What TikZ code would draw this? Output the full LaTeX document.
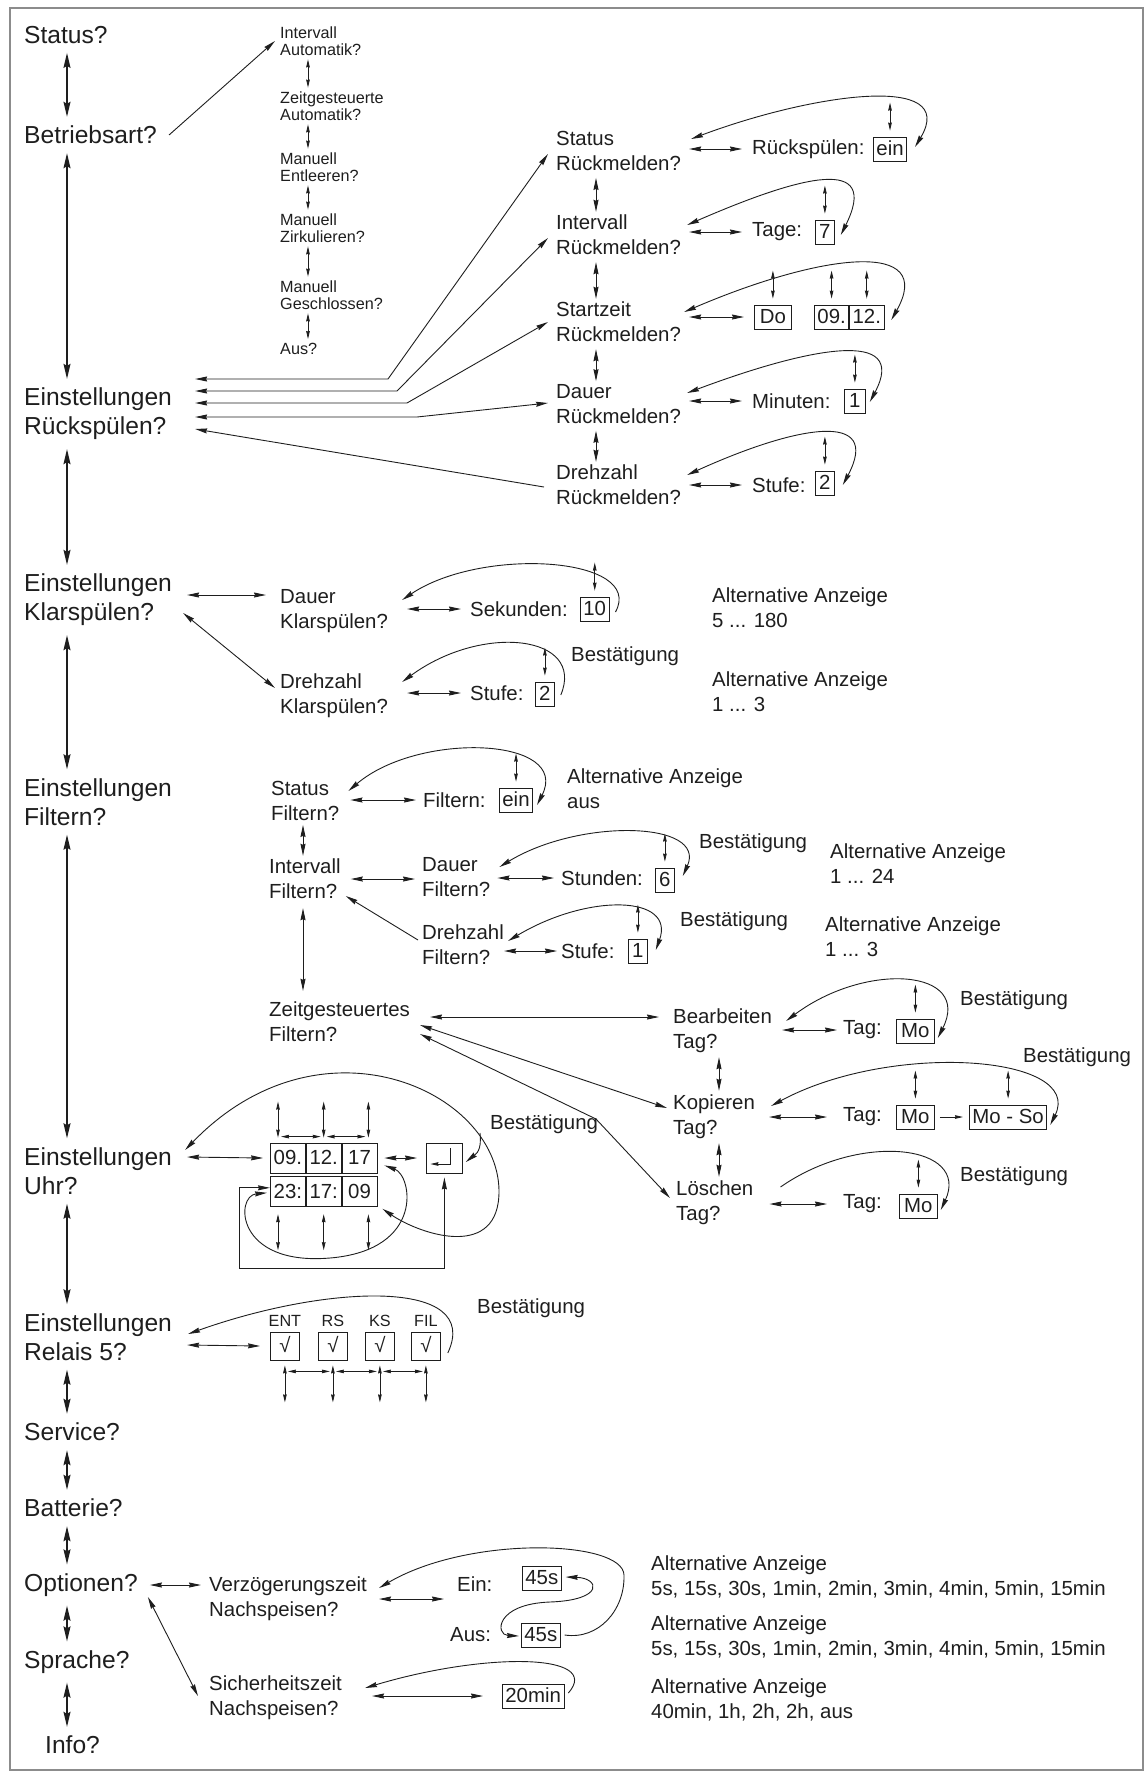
\documentclass[tikz,border=0pt]{standalone}
\usepackage{fontspec}
\setmainfont{Liberation Sans}
\usetikzlibrary{arrows.meta,positioning}
\definecolor{ink}{HTML}{1E1E1E}
\definecolor{rimgray}{HTML}{8C8C8C}

\begin{document}
\begin{tikzpicture}[x=1pt,y=-1pt,
        mtxt/.style = {font=\fontsize{24.6}{29}\selectfont, align=left, anchor=west, inner sep=0pt, text=ink},
        stxt/.style = {font=\fontsize{20.4}{25}\selectfont, align=left, anchor=west, inner sep=0pt, text=ink},
        ttxt/.style = {font=\fontsize{16.2}{16.5}\selectfont, align=left, anchor=west, inner sep=0pt, text=ink},
        vbox/.style = {stxt, draw=ink, line width=0.8pt, inner xsep=3pt, inner ysep=3.5pt, text height=15pt, text depth=2pt, minimum width=19pt},
        cbox/.style = {vbox, minimum width=35pt, minimum height=30pt},
        rbox/.style = {vbox, minimum width=29pt, minimum height=28pt},
        arr/.style = {draw=ink, line width=0.9pt, >={Stealth[length=12pt,width=5pt,inset=1pt]}},
        minarr/.style = {draw=ink, line width=0.8pt, <->, >={Stealth[length=8pt,width=3.6pt,inset=0.5pt]}},
        bigarr/.style = {draw=ink, line width=1.2pt, <->, >={Stealth[length=15pt,width=7pt,inset=2pt]}, shorten <=9pt, shorten >=9pt}]
                \useasboundingbox (0,0) rectangle (1144,1773);
                \draw[rimgray, line width=2.5pt] (10,8) rectangle (1143,1770);

                \node[mtxt] (status) at (24,35) {Status?};
                \node[mtxt] (betrieb) at (24,135) {Betriebsart?};
                \node[mtxt] (eRs) at (24,414) {Einstellungen\\Rückspülen?};
                \node[mtxt] (eKs) at (24,600) {Einstellungen\\Klarspülen?};
                \node[mtxt] (eFi) at (24,802) {Einstellungen\\Filtern?};
                \node[mtxt] (eUh) at (24,1171) {Einstellungen\\Uhr?};
                \node[mtxt] (eRe) at (24,1337) {Einstellungen\\Relais 5?};
                \node[mtxt] (service) at (24,1432) {Service?};
                \node[mtxt] (batterie) at (24,1508) {Batterie?};
                \node[mtxt] (optionen) at (24,1585) {Optionen?};
                \node[mtxt] (sprache) at (24,1662) {Sprache?};
                \node[mtxt] (info) at (45,1745) {Info?};

                \coordinate (col) at (67,0);
                \draw[bigarr] (col |- status.south) -- (col |- betrieb.north);
                \draw[bigarr] (col |- betrieb.south) -- (col |- eRs.north);
                \draw[bigarr] (col |- eRs.south) -- (col |- eKs.north);
                \draw[bigarr] (col |- eKs.south) -- (col |- eFi.north);
                \draw[bigarr] (col |- eFi.south) -- (col |- eUh.north);
                \draw[bigarr] (col |- eUh.south) -- (col |- eRe.north);
                \draw[bigarr] (col |- eRe.south) -- (col |- service.north);
                \draw[bigarr] (col |- service.south) -- (col |- batterie.north);
                \draw[bigarr] (col |- batterie.south) -- (col |- optionen.north);
                \draw[bigarr] (col |- optionen.south) -- (col |- sprache.north);
                \draw[bigarr] (col |- sprache.south) -- (col |- info.north);

                \node[ttxt] (intAuto) at (280,41) {Intervall\\Automatik?};
                \node[ttxt] (zeitAuto) at (280,106) {Zeitgesteuerte\\Automatik?};
                \node[ttxt] (manEnt) at (280,167) {Manuell\\Entleeren?};
                \node[ttxt] (manZirk) at (280,228) {Manuell\\Zirkulieren?};
                \node[ttxt] (manGes) at (280,295) {Manuell\\Geschlossen?};
                \node[ttxt] (ausQ) at (280,349) {Aus?};
                \coordinate (scol) at (308,0);
                \draw[minarr, shorten <=4pt, shorten >=4pt] (scol |- intAuto.south) -- (scol |- zeitAuto.north);
                \draw[minarr, shorten <=4pt, shorten >=4pt] (scol |- zeitAuto.south) -- (scol |- manEnt.north);
                \draw[minarr, shorten <=4pt, shorten >=4pt] (scol |- manEnt.south) -- (scol |- manZirk.north);
                \draw[minarr, shorten <=4pt, shorten >=4pt] (scol |- manZirk.south) -- (scol |- manGes.north);
                \draw[minarr, shorten <=4pt, shorten >=4pt] (scol |- manGes.south) -- (scol |- ausQ.north);
                \draw[arr,->] ([xshift=12pt]betrieb.east) -- ([xshift=-5pt]intAuto.west);

                \node[stxt] (stRm) at (556,151) {Status\\Rückmelden?};
                \node[stxt] (inRm) at (556,235) {Intervall\\Rückmelden?};
                \node[stxt] (suRm) at (556,322) {Startzeit\\Rückmelden?};
                \node[stxt] (daRm) at (556,404) {Dauer\\Rückmelden?};
                \node[stxt] (drRm) at (556,485) {Drehzahl\\Rückmelden?};
                \coordinate (rcol) at (596,0);
                \draw[arr,<->, shorten <=7pt, shorten >=3pt] (rcol |- stRm.south) -- (rcol |- inRm.north);
                \draw[arr,<->, shorten <=7pt, shorten >=3pt] (rcol |- inRm.south) -- (rcol |- suRm.north);
                \draw[arr,<->, shorten <=7pt, shorten >=3pt] (rcol |- suRm.south) -- (rcol |- daRm.north);
                \draw[arr,<->, shorten <=7pt, shorten >=3pt] (rcol |- daRm.south) -- (rcol |- drRm.north);

                \draw[arr,<->] ([shift={(-8,3)}]stRm.west) -- (388,379) -- ([shift={(23,-35)}]eRs.east);
                \draw[arr,<->] ([shift={(-8,3)}]inRm.west) -- (397,391) -- ([shift={(23,-23)}]eRs.east);
                \draw[arr,<->] ([shift={(-8,0)}]suRm.west) -- (407,403) -- ([shift={(23,-11)}]eRs.east);
                \draw[arr,<->] ([shift={(-8,-1)}]daRm.west) -- (417,417) -- ([shift={(23,3)}]eRs.east);
                \draw[arr,<-] ([shift={(23,15)}]eRs.east) -- ([shift={(-12,2)}]drRm.west);

                \node[stxt] (rsLab) at (752,149) {Rückspülen:};
                \node[vbox] (bEin) at (873,149) {ein};
                \node[stxt] (tgLab) at (752,232) {Tage:};
                \node[vbox] (b7) at (815,232) {7};
                \node[vbox, minimum width=37pt] (bDo) at (754,317) {Do};
                \node[vbox] (b09) at (814,317) {09.};
                \node[vbox, anchor=west] (b12) at (b09.east) {12.};
                \node[stxt] (miLab) at (752,401) {Minuten:};
                \node[vbox, minimum width=21pt] (b1) at (844,401) {1};
                \node[stxt] (sfLab) at (752,485) {Stufe:};
                \node[vbox] (b2) at (815,483) {2};

                \draw[arr,<->, shorten <=8pt, shorten >=10pt] (stRm.east |- rsLab) -- (rsLab);
                \draw[arr,<->, shorten <=8pt, shorten >=10pt] (inRm.east |- tgLab) -- (tgLab);
                \draw[arr,<->, shorten <=8pt, shorten >=10pt] (suRm.east |- bDo) -- (bDo);
                \draw[arr,<->, shorten <=8pt, shorten >=10pt] (daRm.east |- miLab) -- (miLab);
                \draw[arr,<->, shorten <=8pt, shorten >=10pt] (drRm.east |- sfLab) -- (sfLab);

                \draw[minarr] ([yshift=6pt]bEin.north) -- ++(0,-28);
                \draw[minarr] ([yshift=6pt]b7.north) -- ++(0,-28);
                \draw[minarr] ([yshift=6pt]bDo.north) -- ++(0,-28);
                \draw[minarr] ([yshift=6pt]b09.north) -- ++(0,-28);
                \draw[minarr] ([yshift=6pt]b12.north) -- ++(0,-28);
                \draw[minarr] ([yshift=6pt]b1.north) -- ++(0,-28);
                \draw[minarr] ([yshift=6pt]b2.north) -- ++(0,-28);

                \draw[arr,<->] ([shift={(8,-2)}]bEin.east) .. controls +(45,-75) and +(120,-45) .. ([shift={(10,-12)}]stRm.east);
                \draw[arr,<->] ([shift={(6,3)}]b7.east) .. controls +(40,-80) and +(115,-50) .. ([shift={(6,-10)}]inRm.east);
                \draw[arr,<->] ([shift={(7,3)}]b12.east) .. controls +(45,-80) and +(140,-60) .. ([shift={(3,-10)}]suRm.east);
                \draw[arr,<->] ([shift={(4,1)}]b1.east) .. controls +(40,-75) and +(120,-45) .. ([shift={(6,-11)}]daRm.east);
                \draw[arr,<->] ([shift={(8,2)}]b2.east) .. controls +(40,-75) and +(110,-50) .. ([shift={(6,-10)}]drRm.east);

                \node[stxt] (daKs) at (280,611) {Dauer\\Klarspülen?};
                \node[stxt] (drKs) at (280,696) {Drehzahl\\Klarspülen?};
                \draw[arr,<->] ([shift={(15,-5)}]eKs.east) -- ([shift={(-14,-16)}]daKs.west);
                \draw[arr,<->] ([shift={(11,13)}]eKs.east) -- ([shift={(-5,-8)}]drKs.west);
                \node[stxt] (skLab) at (470,609) {Sekunden:};
                \node[vbox] (b10) at (580,609) {10};
                \node[stxt] (sfKLab) at (470,693) {Stufe:};
                \node[vbox] (b2k) at (535,694) {2};
                \draw[arr,<->, shorten <=19pt, shorten >=9pt] (daKs.east |- skLab) -- (skLab);
                \draw[arr,<->, shorten <=19pt, shorten >=9pt] (drKs.east |- sfKLab) -- (sfKLab);
                \draw[minarr] ([yshift=6pt]b10.north) -- ++(0,-28);
                \draw[minarr] ([yshift=6pt]b2k.north) -- ++(0,-28);
                \draw[arr,<-] ([shift={(14,-11)}]daKs.east) .. controls +(80,-54) and +(30,-55) .. ([shift={(6,3)}]b10.east);
                \draw[arr,<-] ([shift={(14,-14)}]drKs.east) .. controls +(80,-59) and +(25,-60) .. ([shift={(6,1)}]b2k.east);
                \node[stxt] (bst1) at (571,656) {Bestätigung};
                \node[stxt] (alt1) at (712,608) {Alternative Anzeige\\5 ... 180};
                \node[stxt] (alt2) at (712,692) {Alternative Anzeige\\1 ... 3};

                \node[stxt] (stFi) at (271,801) {Status\\Filtern?};
                \node[stxt] (inFi) at (269,879) {Intervall\\Filtern?};
                \node[stxt] (daFi) at (422,877) {Dauer\\Filtern?};
                \node[stxt] (drFi) at (422,945) {Drehzahl\\Filtern?};
                \node[stxt] (zgFi) at (269,1022) {Zeitgesteuertes\\Filtern?};
                \coordinate (fcol) at (303,0);
                \draw[arr,<->, shorten <=4pt, shorten >=3pt] (fcol |- stFi.south) -- (fcol |- inFi.north);
                \draw[arr,<->, shorten <=9pt, shorten >=11pt] (fcol |- inFi.south) -- (fcol |- zgFi.north);
                \draw[arr,<->, shorten <=10pt, shorten >=7pt] (inFi.east) -- (inFi.east -| daFi.west);
                \draw[arr,->] ([shift={(-4,-5)}]drFi.west) -- ([shift={(5,17)}]inFi.east);

                \node[stxt] (fiLab) at (423,800) {Filtern:};
                \node[vbox] (bFein) at (499,800) {ein};
                \node[stxt] (snLab) at (561,878) {Stunden:};
                \node[vbox] (b6) at (655,880) {6};
                \node[stxt] (sfFLab) at (561,951) {Stufe:};
                \node[vbox] (b1f) at (628,951) {1};
                \draw[arr,<->, shorten <=11pt, shorten >=7pt] (stFi.east |- fiLab) -- (fiLab);
                \draw[arr,<->, shorten <=7pt, shorten >=7pt] (daFi.east |- snLab) -- (snLab);
                \draw[arr,<->, shorten <=0pt, shorten >=4pt] (drFi.east |- sfFLab) -- (sfFLab);
                \draw[minarr] ([yshift=6pt]bFein.north) -- ++(0,-28);
                \draw[minarr] ([yshift=6pt]b6.north) -- ++(0,-28);
                \draw[minarr] ([yshift=6pt]b1f.north) -- ++(0,-28);
                \draw[arr,<->] ([shift={(9,-10)}]stFi.east) .. controls +(70,-60) and +(35,-68) .. ([shift={(4,5)}]bFein.east);
                \draw[arr,<->] ([shift={(9,-10)}]daFi.east) .. controls +(80,-49) and +(25,-55) .. ([shift={(8,-4)}]b6.east);
                \draw[arr,<->] ([shift={(4,-4)}]drFi.east) .. controls +(80,-48) and +(20,-55) .. ([shift={(8,-1)}]b1f.east);
                \node[stxt] (alt3) at (567,789) {Alternative Anzeige\\aus};
                \node[stxt] (bst2) at (699,843) {Bestätigung};
                \node[stxt] (alt4) at (830,864) {Alternative Anzeige\\1 ... 24};
                \node[stxt] (bst3) at (680,921) {Bestätigung};
                \node[stxt] (alt5) at (825,937) {Alternative Anzeige\\1 ... 3};

                \node[stxt] (beTag) at (673,1031) {Bearbeiten\\Tag?};
                \node[stxt] (koTag) at (673,1117) {Kopieren\\Tag?};
                \node[stxt] (loTag) at (676,1203) {Löschen\\Tag?};
                \draw[arr,<->] ([shift={(20,-5)}]zgFi.east) -- ([shift={(-14,-14)}]beTag.west);
                \draw[arr,<->] ([shift={(10,3)}]zgFi.east) -- ([shift={(-6,-9)}]koTag.west);
                \draw[arr,<->] ([shift={(10,12)}]zgFi.east) -- (596,1119) -- ([shift={(-6,-5)}]loTag.west);
                \coordinate (tcol) at (719,0);
                \draw[arr,<->, shorten <=4pt, shorten >=4pt] (tcol |- beTag.south) -- (tcol |- koTag.north);
                \draw[arr,<->, shorten <=4pt, shorten >=4pt] (tcol |- koTag.south) -- (tcol |- loTag.north);

                \node[stxt] (tg1) at (843,1030) {Tag:};
                \node[vbox, minimum width=38pt] (bMo1) at (896,1031) {Mo};
                \node[stxt] (tg2) at (843,1117) {Tag:};
                \node[vbox, minimum width=38pt] (bMo2) at (896,1117) {Mo};
                \node[vbox] (bMoSo) at (969,1117) {Mo - So};
                \node[stxt] (tg3) at (843,1204) {Tag:};
                \node[vbox, minimum width=38pt] (bMo3) at (899,1206) {Mo};
                \draw[arr,<->, shorten <=10pt, shorten >=6pt] (beTag.east |- tg1) -- (tg1);
                \draw[arr,<->, shorten <=14pt, shorten >=16pt] (koTag.east |- tg2) -- (tg2);
                \draw[arr,<->, shorten <=16pt, shorten >=16pt] (loTag.east |- tg3) -- (tg3);
                \draw[minarr,->, shorten <=5pt, shorten >=6pt] (bMo2) -- (bMoSo);
                \draw[minarr] ([yshift=6pt]bMo1.north) -- ++(0,-28);
                \draw[minarr] ([yshift=6pt]bMo2.north) -- ++(0,-28);
                \draw[minarr] ([yshift=6pt]bMoSo.north) -- ++(0,-28);
                \draw[minarr] ([yshift=6pt]bMo3.north) -- ++(0,-28);
                \draw[arr,<->] ([shift={(14,-10)}]beTag.east) .. controls +(80,-60) and +(35,-69) .. ([shift={(3,7)}]bMo1.east);
                \draw[arr,<->] ([shift={(16,-11)}]koTag.east) .. controls +(120,-65) and +(35,-70) .. ([shift={(3,8)}]bMoSo.east);
                \draw[arr,->] ([shift={(27,-16)}]loTag.east) .. controls +(80,-56) and +(30,-65) .. ([shift={(3,4)}]bMo3.east);
                \node[stxt] (bst4) at (960,1000) {Bestätigung};
                \node[stxt] (bst5) at (1023,1057) {Bestätigung};
                \node[stxt] (bst6) at (960,1176) {Bestätigung};

                \node[cbox] (c09) at (270,1158) {09.};
                \node[cbox, anchor=west] (c12) at (c09.east) {12.};
                \node[cbox, anchor=west] (c17) at (c12.east) {17};
                \node[cbox, anchor=north west] (c23) at ([yshift=-3pt]c09.south west) {23:};
                \node[cbox, anchor=west] (c17b) at (c23.east) {17:};
                \node[cbox, anchor=west] (c09b) at (c17b.east) {09};
                \node[vbox, minimum width=36pt, minimum height=30pt] (enter) at (426,1158) {};
                \draw[minarr,->, line width=0.9pt] ([shift={(6,-10)}]enter.center) -- ([shift={(6,6)}]enter.center) -- ([shift={(-14,6)}]enter.center);
                \draw[arr,<->] ([shift={(15,-14)}]eUh.east) -- ([xshift=-7pt]c09.west);
                \draw[arr,<->, shorten <=7pt, shorten >=9pt] (c17.east) -- (enter.west);
                \draw[minarr] ([shift={(8,-5)}]c09.north west) -- ++(0,-36);
                \draw[minarr] ([yshift=5pt]c12.north) -- ++(0,-36);
                \draw[minarr] ([shift={(-9,-5)}]c17.north east) -- ++(0,-36);
                \draw[minarr, shorten <=3pt, shorten >=3pt] ([shift={(8,-6)}]c09.north west) -- ([yshift=6pt]c12.north);
                \draw[minarr, shorten <=3pt, shorten >=3pt] ([yshift=6pt]c12.north) -- ([shift={(-9,-6)}]c17.north east);
                \draw[minarr] ([shift={(8,7)}]c23.south west) -- ++(0,36);
                \draw[minarr] ([yshift=-7pt]c17b.south) -- ++(0,36);
                \draw[minarr] ([shift={(-9,7)}]c09b.south east) -- ++(0,36);
                \draw[arr,<->] ([yshift=-4pt]enter.south) -- ++(0,91) -| ([shift={(-31,-4)}]c23.west) -- ([yshift=4pt]c23.west);
                \draw[arr,<->] ([shift={(7,-8)}]c17.south east) .. controls +(28,10) and +(95,-8) .. (330,1258) .. controls +(-95,8) and +(-32,3) .. ([shift={(-3,1)}]c23.west);
                \draw[arr,<->] ([shift={(5,17)}]c09b.east) .. controls +(40,27) and +(1,70) .. (499,1190) .. controls +(-2,-100) and +(135,-140) .. ([shift={(13,-21)}]eUh.east);
                \coordinate (fork) at (480,1133);
                \draw[arr,->] (fork) .. controls +(2,18) and +(10,-8) .. ([shift={(3,4)}]enter.east);
                \node[stxt] (bst7) at (490,1124) {Bestätigung};

                \node[rbox] (rEnt) at (270,1346) {√};
                \node[rbox] (rRs) at (318,1346) {√};
                \node[rbox] (rKs) at (365,1346) {√};
                \node[rbox] (rFil) at (411,1346) {√};
                \node[ttxt, above=5pt of rEnt] (lEnt) {ENT};
                \node[ttxt, above=5pt of rRs] (lRs) {RS};
                \node[ttxt, above=5pt of rKs] (lKs) {KS};
                \node[ttxt, above=5pt of rFil] (lFil) {FIL};
                \draw[arr,<->] ([shift={(15,8)}]eRe.east) -- ([xshift=-10pt]rEnt.west);
                \draw[minarr] ([yshift=-5pt]rEnt.south) -- ++(0,37);
                \draw[minarr] ([yshift=-5pt]rRs.south) -- ++(0,37);
                \draw[minarr] ([yshift=-5pt]rKs.south) -- ++(0,37);
                \draw[minarr] ([yshift=-5pt]rFil.south) -- ++(0,37);
                \draw[minarr, shorten <=3pt, shorten >=3pt] ([yshift=-11pt]rEnt.south) -- ([yshift=-11pt]rRs.south);
                \draw[minarr, shorten <=3pt, shorten >=3pt] ([yshift=-11pt]rRs.south) -- ([yshift=-11pt]rKs.south);
                \draw[minarr, shorten <=3pt, shorten >=3pt] ([yshift=-11pt]rKs.south) -- ([yshift=-11pt]rFil.south);
                \draw[arr,<-] ([shift={(16,-3)}]eRe.east) .. controls +(140,-50) and +(35,-75) .. ([shift={(7,7)}]rFil.east);
                \node[stxt] (bst8) at (477,1308) {Bestätigung};

                \node[stxt] (vzNs) at (209,1599) {Verzögerungszeit\\Nachspeisen?};
                \node[stxt] (szNs) at (209,1698) {Sicherheitszeit\\Nachspeisen?};
                \draw[arr,<->] ([xshift=12pt]optionen.east) -- ([xshift=-8pt]vzNs.west |- optionen.east);
                \draw[arr,<->] ([shift={(10,12)}]optionen.east) -- ([shift={(-11,-2)}]szNs.west);
                \node[stxt] (einLab) at (457,1584) {Ein:};
                \node[stxt] (ausLab) at (450,1635) {Aus:};
                \node[vbox] (bE45) at (522,1578) {45s};
                \node[vbox] (bA45) at (521,1635) {45s};
                \node[vbox] (b20) at (502,1696) {20min};
                \draw[arr,<->] ([xshift=12pt]vzNs.east) -- ([xshift=-13pt]einLab.west |- vzNs.east);
                \draw[arr,<->] ([shift={(4,-1)}]bE45.east) .. controls +(34,1) and +(55,-2) .. (550,1602) .. controls +(-55,2) and +(-24,-1) .. ([shift={(-2,1)}]bA45.west);
                \draw[arr,<-] ([shift={(12,-11)}]vzNs.east) .. controls +(90,-53) and +(-1,-35) .. (624,1575) .. controls +(1,35) and +(34,5) .. ([xshift=4pt]bA45.east);
                \draw[arr,<->, shorten <=30pt, shorten >=19pt] (szNs.east |- b20) -- (b20);
                \draw[arr,<-] ([shift={(23,-10)}]szNs.east) .. controls +(120,-36) and +(35,-40) .. ([shift={(4,-3)}]b20.east);
                \node[stxt] (alt6) at (651,1577) {Alternative Anzeige\\5s, 15s, 30s, 1min, 2min, 3min, 4min, 5min, 15min};
                \node[stxt] (alt7) at (651,1637) {Alternative Anzeige\\5s, 15s, 30s, 1min, 2min, 3min, 4min, 5min, 15min};
                \node[stxt] (alt8) at (651,1700) {Alternative Anzeige\\40min, 1h, 2h, 2h, aus};
            \end{tikzpicture}
\end{document}
